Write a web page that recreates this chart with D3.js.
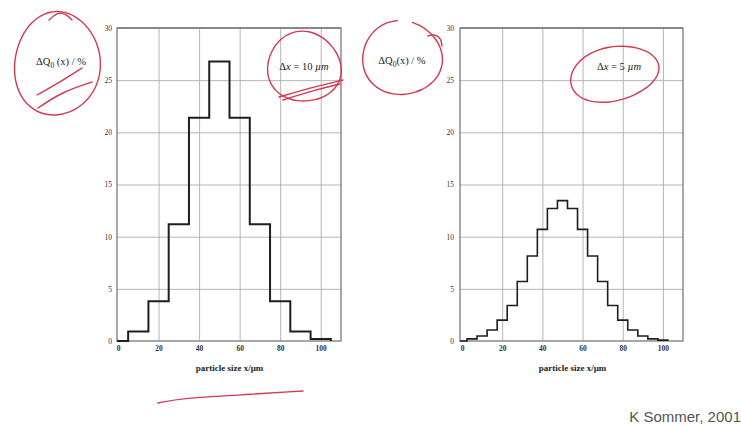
<!doctype html>
<html lang="en">
<head>
<meta charset="utf-8">
<title>Particle size distribution</title>
<script src="https://d3js.org/d3.v7.min.js"></script>
<style>
  body { margin: 0; background: #fff; }
  svg { display: block; }
  text { -webkit-font-smoothing: antialiased; }
  .tick text { font-family: "Liberation Serif", "DejaVu Serif", serif; font-size: 7.5px; fill: #333; }
  .lbl { font-family: "Liberation Serif", "DejaVu Serif", serif; font-size: 10.5px; fill: #222; }
</style>
</head>
<body>
<svg width="741" height="426"></svg>
<script>
// bin centres (µm) and fraction ΔQ0 (%)
var leftCenters = [10, 20, 30, 40, 50, 60, 70, 80, 90, 100];
var leftValues  = [0.9, 3.8, 11.2, 21.4, 26.8, 21.4, 11.2, 3.8, 0.9, 0.2];
var leftWidth = 10;

var rightCenters = [5, 10, 15, 20, 25, 30, 35, 40, 45, 50, 55, 60, 65, 70, 75, 80, 85, 90, 95, 100];
var rightValues  = [0.2, 0.48, 1.05, 2.0, 3.4, 5.7, 8.15, 10.7, 12.7, 13.45,
                    12.7, 10.7, 8.15, 5.7, 3.4, 2.0, 1.05, 0.48, 0.2, 0.08];
var rightWidth = 5;

var xTicks = [0, 20, 40, 60, 80, 100];
var yTicks = [0, 5, 10, 15, 20, 25, 30];

var svg = d3.select("svg");
var red = "#d23a52";

function panel(opt) {
  var x = d3.scaleLinear().domain(opt.xdom).range(opt.xr);
  var y = d3.scaleLinear().domain([0, 30]).range([341, 28]);
  var g = svg.append("g");

  // grid
  g.append("g").attr("transform", "translate(0,341)")
    .call(d3.axisBottom(x).tickValues([20, 40, 60, 80, 100]).tickSize(-313).tickFormat(""))
    .call(function(s) { s.select(".domain").remove(); s.selectAll("line").attr("stroke", "#b5b5b5").attr("stroke-width", 1); });
  g.append("g").attr("transform", "translate(" + opt.xr[0] + ",0)")
    .call(d3.axisLeft(y).tickValues([5, 10, 15, 20, 25]).tickSize(-(opt.xr[1] - opt.xr[0])).tickFormat(""))
    .call(function(s) { s.select(".domain").remove(); s.selectAll("line").attr("stroke", "#b5b5b5").attr("stroke-width", 1); });

  // frame
  g.append("rect").attr("x", opt.xr[0]).attr("y", 28)
    .attr("width", opt.xr[1] - opt.xr[0]).attr("height", 313)
    .attr("fill", "none").attr("stroke", "#7a7a7a").attr("stroke-width", 1.3);
  g.append("line").attr("x1", opt.xr[0]).attr("x2", opt.xr[1]).attr("y1", 28).attr("y2", 28)
    .attr("stroke", "#888").attr("stroke-width", 2);

  // tick labels
  g.append("g").attr("transform", "translate(" + opt.xr[0] + ",0)")
    .call(d3.axisLeft(y).tickValues(yTicks).tickSize(0).tickPadding(opt.ypad))
    .call(function(s) { s.select(".domain").remove(); });
  g.append("g").attr("transform", "translate(0,341)")
    .call(d3.axisBottom(x).tickValues(xTicks).tickSize(0).tickPadding(5))
    .call(function(s) { s.select(".domain").remove(); s.selectAll("text").style("font-weight", "bold"); });

  // histogram outline (steps only)
  var n = opt.centers.length;
  var pts = [[opt.xdom[0], 0], [opt.centers[0] - opt.w / 2, 0]];
  opt.centers.forEach(function(c, i) {
    pts.push([c - opt.w / 2, opt.values[i]]);
    pts.push([c + opt.w / 2, opt.values[i]]);
  });
  pts.push([opt.centers[n - 1] + opt.w / 2, 0]);
  g.append("path").datum(pts)
    .attr("fill", "none").attr("stroke", "#1e1e1e").attr("stroke-width", opt.sw)
    .attr("stroke-linejoin", "miter")
    .attr("d", d3.line().x(function(d) { return x(d[0]); }).y(function(d) { return y(d[1]); }));

  // axis title
  g.append("text").attr("class", "lbl").attr("x", x(55)).attr("y", 371)
    .attr("text-anchor", "middle").style("font-weight", "bold").style("font-size", "9px")
    .text("particle size x/µm");

  // labels
  var q = g.append("text").attr("class", "lbl").attr("x", opt.qx).attr("y", opt.qy).attr("text-anchor", "middle");
  q.append("tspan").text("ΔQ");
  q.append("tspan").attr("dy", 2.5).style("font-size", "7.5px").text("0");
  q.append("tspan").attr("dy", -2.5).text(opt.qtext);

  var dx = g.append("text").attr("class", "lbl").attr("x", opt.dxx).attr("y", 70).attr("text-anchor", "middle");
  dx.append("tspan").text("Δ");
  dx.append("tspan").style("font-style", "italic").text("x");
  dx.append("tspan").text(opt.dxtext);
  dx.append("tspan").style("font-style", "italic").text("µm");
}

panel({ xdom: [-0.5, 110], xr: [117, 341], centers: leftCenters, values: leftValues, w: leftWidth,
        sw: 2, ypad: 5, qx: 61, qy: 65, qtext: " (x) / %", dxx: 304, dxtext: " = 10 " });
panel({ xdom: [-1, 110], xr: [460, 683], centers: rightCenters, values: rightValues, w: rightWidth,
        sw: 1.6, ypad: 6, qx: 402, qy: 64, qtext: "(x) / %", dxx: 619, dxtext: " = 5 " });

// red pen annotations
function scribble(cx, cy, rx, ry, rot, a0, a1, wob) {
  var pts = d3.range(0, 41).map(function(i) {
    var t = a0 + (a1 - a0) * i / 40;
    var r = 1 + wob * Math.sin(3 * t + 1);
    var px = rx * r * Math.cos(t), py = ry * r * Math.sin(t);
    var c = Math.cos(rot), s = Math.sin(rot);
    return [cx + px * c - py * s, cy + px * s + py * c];
  });
  svg.append("path").attr("d", d3.line().curve(d3.curveBasis)(pts))
    .attr("fill", "none").attr("stroke", red).attr("stroke-width", 1.4).attr("stroke-linecap", "round");
}
function stroke(p) {
  svg.append("path").attr("d", d3.line().curve(d3.curveBasis)(p))
    .attr("fill", "none").attr("stroke", red).attr("stroke-width", 1.4).attr("stroke-linecap", "round");
}

scribble(57, 64, 43, 52, 0.1, -1.9, 4.6, 0.02);
stroke([[49, 20], [58, 12], [66, 14], [72, 20]]);
stroke([[37, 95], [60, 82], [82, 68]]);
stroke([[38, 108], [62, 92], [92, 82]]);

scribble(304, 67, 37, 35, 0.2, -1.2, 5.3, 0.03);
stroke([[279, 97], [310, 88], [343, 80]]);
stroke([[283, 100], [315, 90], [340, 84]]);

// open loop with a hook, right panel
scribble(402, 58, 40, 37, 0.05, -1.35, 4.55, 0.02);
stroke([[428, 36], [434, 34], [441, 38], [442, 46]]);

scribble(614, 74, 45, 27, -0.22, -1.7, 4.7, 0.02);

stroke([[158, 403], [183, 398], [240, 395], [303, 391]]);

svg.append("text").attr("x", 741).attr("y", 422).attr("text-anchor", "end")
  .style("font-family", "Liberation Sans, Arial, sans-serif").style("font-size", "15px").style("fill", "#555")
  .text("K Sommer, 2001");
</script>
</body>
</html>
